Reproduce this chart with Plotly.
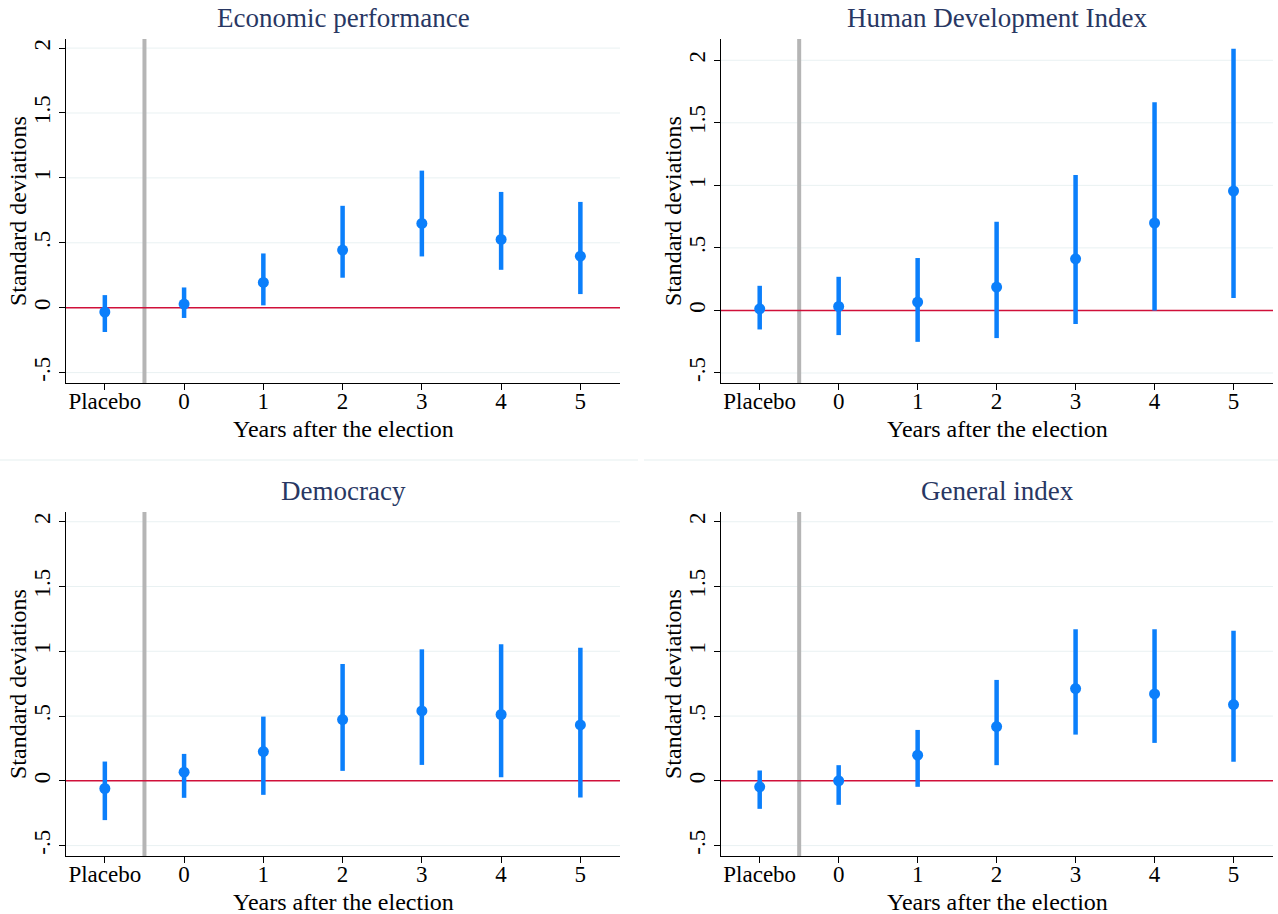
import plotly.graph_objects as go

# Event-study estimates (standard deviations) with 95% confidence bounds
periods = ["Placebo", "0", "1", "2", "3", "4", "5"]
period_pos = [-1, 0, 1, 2, 3, 4, 5]

panel_titles = ["Economic performance", "Human Development Index", "Democracy", "General index"]

econ_est = [-0.033, 0.028, 0.195, 0.444, 0.649, 0.526, 0.397]
econ_lo = [-0.187, -0.079, 0.018, 0.231, 0.395, 0.292, 0.105]
econ_hi = [0.097, 0.156, 0.418, 0.785, 1.056, 0.892, 0.815]

hdi_est = [0.013, 0.032, 0.067, 0.187, 0.413, 0.699, 0.955]
hdi_lo = [-0.152, -0.197, -0.251, -0.221, -0.109, 0.0, 0.099]
hdi_hi = [0.197, 0.269, 0.419, 0.709, 1.083, 1.664, 2.093]

demo_est = [-0.059, 0.067, 0.226, 0.473, 0.540, 0.512, 0.432]
demo_lo = [-0.303, -0.131, -0.108, 0.077, 0.123, 0.028, -0.129]
demo_hi = [0.149, 0.208, 0.496, 0.902, 1.015, 1.054, 1.028]

gen_est = [-0.046, 0.0, 0.198, 0.419, 0.712, 0.671, 0.589]
gen_lo = [-0.216, -0.185, -0.046, 0.121, 0.357, 0.293, 0.147]
gen_hi = [0.080, 0.121, 0.393, 0.779, 1.170, 1.170, 1.159]

y_tickvals = [-0.5, 0, 0.5, 1, 1.5, 2]
y_ticktext = ["-.5", "0", ".5", "1", "1.5", "2"]

y_ranges = [[-0.58, 2.07], [-0.58, 2.17], [-0.58, 2.075], [-0.58, 2.075]]

W, H = 1278, 914
# panel boxes in pixels: (left, right, top, bottom)
boxes = [(66, 620, 39, 383), (721, 1273, 39, 383), (66, 620, 512, 856), (721, 1273, 512, 856)]

BLUE = "#0b7ffb"
RED = "#d0103a"
GREY = "#b5b5b5"
GRID = "#e9f1f2"
NAVY = "#283763"
FONT = "Liberation Serif"

series = [
    (econ_est, econ_lo, econ_hi),
    (hdi_est, hdi_lo, hdi_hi),
    (demo_est, demo_lo, demo_hi),
    (gen_est, gen_lo, gen_hi),
]

fig = go.Figure()
layout = dict(
    width=W, height=H,
    margin=dict(l=0, r=0, t=0, b=0),
    paper_bgcolor="white", plot_bgcolor="rgba(0,0,0,0)",
    showlegend=False,
    font=dict(family=FONT, size=22, color="black"),
)
shapes = []
annotations = []

for i, ((est, lo, hi), title, (l, r, t, b), yr) in enumerate(zip(series, panel_titles, boxes, y_ranges)):
    n = i + 1
    xa = "x" if n == 1 else f"x{n}"
    ya = "y" if n == 1 else f"y{n}"
    xkey = "xaxis" if n == 1 else f"xaxis{n}"
    ykey = "yaxis" if n == 1 else f"yaxis{n}"

    fig.add_trace(go.Scatter(
        x=period_pos, y=est, mode="markers",
        marker=dict(color=BLUE, size=11),
        error_y=dict(type="data", symmetric=False,
                     array=[h - e for h, e in zip(hi, est)],
                     arrayminus=[e - lo_ for e, lo_ in zip(est, lo)],
                     color=BLUE, thickness=4.5, width=0),
        xaxis=xa, yaxis=ya, hoverinfo="skip",
    ))

    layout[xkey] = dict(
        domain=[l / W, r / W], anchor=ya, range=[-1.49, 5.5],
        tickmode="array", tickvals=period_pos, ticktext=periods,
        ticks="outside", ticklen=6, tickcolor="black",
        ticklabelstandoff=-9,
        showline=True, linecolor="black", linewidth=1, mirror=False,
        showgrid=False, zeroline=False,
        tickfont=dict(family=FONT, size=23, color="black"),
    )
    layout[ykey] = dict(
        domain=[1 - b / H, 1 - t / H], anchor=xa, range=yr,
        tickmode="array", tickvals=y_tickvals, ticktext=y_ticktext,
        tickangle=-90,
        ticks="outside", ticklen=6, tickcolor="black",
        showline=True, linecolor="black", linewidth=1, mirror=False,
        showgrid=False, zeroline=False,
        tickfont=dict(family=FONT, size=23, color="black"),
    )

    # light horizontal grid at every non-zero tick
    for v in y_tickvals:
        if v != 0:
            shapes.append(dict(type="line", xref=f"{xa} domain", yref=ya,
                               x0=0, x1=1, y0=v, y1=v,
                               line=dict(color=GRID, width=1), layer="below"))
    # grey divider between placebo and post-election periods
    shapes.append(dict(type="line", xref=xa, yref=f"{ya} domain",
                       x0=-0.5, x1=-0.5, y0=0, y1=1,
                       line=dict(color=GREY, width=4), layer="below"))
    # zero reference line
    shapes.append(dict(type="line", xref=f"{xa} domain", yref=ya,
                       x0=0, x1=1, y0=0, y1=0,
                       line=dict(color=RED, width=1.5), layer="below"))

    # panel title
    annotations.append(dict(
        text=title, xref="paper", yref="paper",
        x=(l + r) / 2 / W, y=1 - (t - 21) / H,
        xanchor="center", yanchor="middle", showarrow=False,
        font=dict(family=FONT, size=27, color=NAVY),
    ))
    # x-axis title
    annotations.append(dict(
        text="Years after the election", xref="paper", yref="paper",
        x=(l + r) / 2 / W, y=1 - (b + 46) / H,
        xanchor="center", yanchor="middle", showarrow=False,
        font=dict(family=FONT, size=24, color="black"),
    ))
    # y-axis title
    annotations.append(dict(
        text="Standard deviations", xref="paper", yref="paper",
        x=(l - 48) / W, y=1 - (t + b) / 2 / H, textangle=-90,
        xanchor="center", yanchor="middle", showarrow=False,
        font=dict(family=FONT, size=24, color="black"),
    ))

# faint separators between the top and bottom rows
for x0, x1 in [(0, 638), (644, W)]:
    shapes.append(dict(type="line", xref="paper", yref="paper",
                       x0=x0 / W, x1=x1 / W, y0=1 - 460 / H, y1=1 - 460 / H,
                       line=dict(color="#eef5f5", width=1.5), layer="below"))

layout["shapes"] = shapes
layout["annotations"] = annotations
fig.update_layout(**layout)

fig.write_html("out.html")
